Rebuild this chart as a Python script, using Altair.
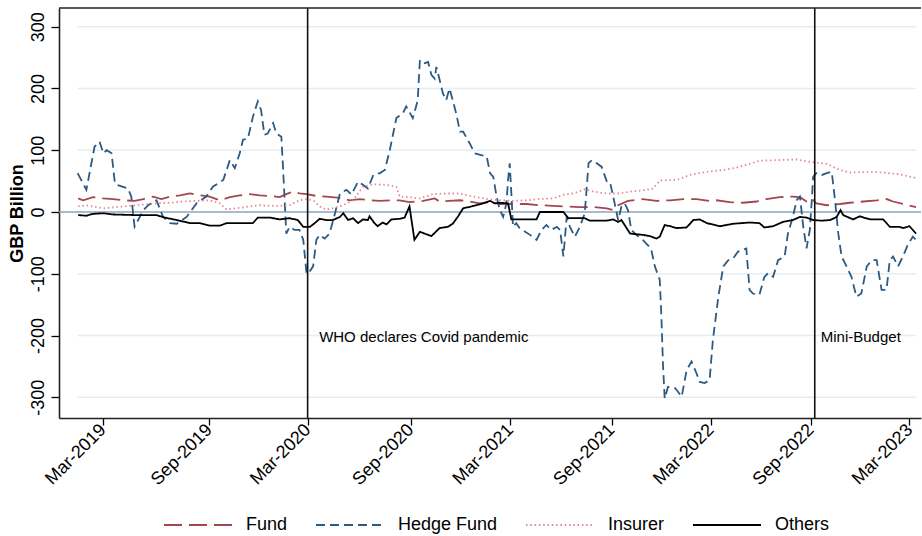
import altair as alt
import pandas as pd

# Net positions by sector, GBP billion (date, value)
fund = [
    ("2019-01-17", 22), ("2019-01-26", 19), ("2019-02-13", 24), ("2019-03-04", 22), ("2019-03-22", 21),
    ("2019-04-09", 19), ("2019-04-30", 18), ("2019-05-16", 21), ("2019-06-03", 25), ("2019-06-18", 21),
    ("2019-07-04", 25), ("2019-07-22", 27), ("2019-08-09", 30), ("2019-08-27", 27), ("2019-09-14", 25),
    ("2019-10-03", 19), ("2019-10-21", 24), ("2019-11-08", 27), ("2019-11-26", 29), ("2019-12-15", 27),
    ("2020-01-02", 26), ("2020-01-20", 24), ("2020-02-01", 29), ("2020-02-13", 33), ("2020-02-25", 30),
    ("2020-03-09", 29), ("2020-03-27", 26), ("2020-04-14", 25), ("2020-05-09", 23), ("2020-05-27", 19),
    ("2020-06-14", 21), ("2020-07-02", 19), ("2020-07-21", 18), ("2020-08-08", 19), ("2020-08-26", 19),
    ("2020-09-13", 16), ("2020-10-08", 18), ("2020-10-29", 22), ("2020-11-07", 17), ("2020-11-25", 18),
    ("2020-12-14", 19), ("2021-01-01", 17), ("2021-01-19", 14), ("2021-02-07", 16), ("2021-02-25", 13),
    ("2021-03-21", 13), ("2021-04-15", 13), ("2021-05-09", 11), ("2021-06-02", 10), ("2021-06-27", 9),
    ("2021-07-21", 8), ("2021-08-15", 8), ("2021-09-08", 6), ("2021-09-20", 3), ("2021-09-29", 11),
    ("2021-10-17", 18), ("2021-11-13", 21), ("2021-12-08", 18), ("2022-01-02", 19), ("2022-01-26", 21),
    ("2022-02-19", 21), ("2022-03-15", 18), ("2022-03-27", 19), ("2022-04-21", 16), ("2022-05-15", 15),
    ("2022-06-09", 17), ("2022-06-27", 21), ("2022-07-21", 24), ("2022-08-14", 25), ("2022-08-27", 24),
    ("2022-09-08", 17), ("2022-09-17", 22), ("2022-09-26", 14), ("2022-10-15", 11), ("2022-11-08", 13),
    ("2022-11-26", 15), ("2022-12-21", 17), ("2023-01-14", 19), ("2023-02-01", 21), ("2023-02-13", 17),
    ("2023-03-03", 13), ("2023-03-27", 8),
]

hedge_fund = [
    ("2019-01-16", 63), ("2019-02-01", 36), ("2019-02-16", 106), ("2019-02-25", 114), ("2019-03-04", 95),
    ("2019-03-10", 100), ("2019-03-19", 95), ("2019-03-25", 47), ("2019-03-28", 44), ("2019-04-18", 38),
    ("2019-04-24", 25), ("2019-04-30", -24), ("2019-05-16", 3), ("2019-05-25", 11), ("2019-06-09", 19),
    ("2019-06-21", -8), ("2019-07-04", -18), ("2019-07-16", -19), ("2019-08-03", -8), ("2019-08-21", 14),
    ("2019-09-08", 25), ("2019-09-20", 41), ("2019-10-09", 52), ("2019-10-21", 84), ("2019-10-30", 71),
    ("2019-11-08", 95), ("2019-11-14", 117), ("2019-11-23", 119), ("2019-12-02", 154), ("2019-12-11", 179),
    ("2019-12-17", 165), ("2019-12-23", 125), ("2019-12-29", 127), ("2020-01-08", 144), ("2020-01-14", 127),
    ("2020-01-23", 122), ("2020-01-26", 73), ("2020-01-29", 19), ("2020-02-01", -35), ("2020-02-07", -24),
    ("2020-02-16", -29), ("2020-02-25", -29), ("2020-03-03", -45), ("2020-03-09", -99), ("2020-03-12", -100),
    ("2020-03-21", -88), ("2020-03-27", -45), ("2020-04-02", -37), ("2020-04-11", -43), ("2020-04-20", -35),
    ("2020-04-30", -2), ("2020-05-09", 30), ("2020-05-21", 36), ("2020-05-30", 28), ("2020-06-11", 49),
    ("2020-06-20", 44), ("2020-06-29", 38), ("2020-07-09", 60), ("2020-07-21", 63), ("2020-07-30", 68),
    ("2020-08-08", 100), ("2020-08-20", 152), ("2020-09-01", 160), ("2020-09-07", 171), ("2020-09-19", 152),
    ("2020-09-25", 171), ("2020-09-28", 181), ("2020-10-02", 246), ("2020-10-11", 241), ("2020-10-17", 243),
    ("2020-10-23", 222), ("2020-10-29", 216), ("2020-11-01", 235), ("2020-11-07", 214), ("2020-11-13", 192),
    ("2020-11-19", 181), ("2020-11-25", 200), ("2020-12-01", 181), ("2020-12-08", 157), ("2020-12-14", 130),
    ("2020-12-20", 130), ("2021-01-01", 111), ("2021-01-10", 95), ("2021-01-22", 92), ("2021-02-01", 90),
    ("2021-02-07", 63), ("2021-02-13", 57), ("2021-02-19", 25), ("2021-02-25", 3), ("2021-03-03", -8),
    ("2021-03-09", 14), ("2021-03-12", 52), ("2021-03-15", 79), ("2021-03-18", 30), ("2021-03-21", -24),
    ("2021-03-27", -18), ("2021-04-02", -26), ("2021-04-21", -37), ("2021-05-03", -45), ("2021-05-12", -29),
    ("2021-05-21", -21), ("2021-05-30", -29), ("2021-06-09", -24), ("2021-06-15", -29), ("2021-06-21", -72),
    ("2021-06-27", -8), ("2021-07-03", -24), ("2021-07-12", -40), ("2021-07-21", -24), ("2021-07-30", -2),
    ("2021-08-06", 79), ("2021-08-12", 84), ("2021-08-21", 79), ("2021-08-30", 73), ("2021-09-08", 50),
    ("2021-09-14", 49), ("2021-09-20", 25), ("2021-09-29", -13), ("2021-10-05", 9), ("2021-10-11", 14),
    ("2021-10-17", 3), ("2021-10-23", -29), ("2021-11-01", -37), ("2021-11-13", -45), ("2021-11-28", -59),
    ("2021-12-05", -88), ("2021-12-14", -110), ("2021-12-17", -170), ("2021-12-20", -250), ("2021-12-23", -302),
    ("2021-12-29", -283), ("2022-01-11", -285), ("2022-01-23", -299), ("2022-02-01", -256), ("2022-02-10", -242),
    ("2022-02-19", -261), ("2022-02-25", -275), ("2022-03-06", -277), ("2022-03-15", -272), ("2022-03-21", -207),
    ("2022-03-31", -137), ("2022-04-09", -88), ("2022-04-18", -78), ("2022-04-27", -75), ("2022-05-06", -64),
    ("2022-05-21", -59), ("2022-05-27", -126), ("2022-06-02", -132), ("2022-06-14", -134), ("2022-06-23", -105),
    ("2022-06-30", -99), ("2022-07-09", -105), ("2022-07-18", -78), ("2022-07-30", -72), ("2022-08-05", -35),
    ("2022-08-14", -8), ("2022-08-21", 19), ("2022-08-27", 25), ("2022-09-02", -24), ("2022-09-08", -59),
    ("2022-09-14", -29), ("2022-09-18", 25), ("2022-09-20", 57), ("2022-09-26", 63), ("2022-10-06", 60),
    ("2022-10-15", 63), ("2022-10-24", 65), ("2022-10-30", 19), ("2022-11-05", -35), ("2022-11-11", -72),
    ("2022-11-20", -88), ("2022-11-29", -105), ("2022-12-08", -137), ("2022-12-17", -132), ("2022-12-27", -88),
    ("2023-01-05", -78), ("2023-01-14", -78), ("2023-01-23", -126), ("2023-02-01", -126), ("2023-02-07", -78),
    ("2023-02-13", -72), ("2023-02-22", -88), ("2023-03-03", -72), ("2023-03-12", -53), ("2023-03-21", -40),
    ("2023-03-27", -45),
]

insurer = [
    ("2019-01-17", 9), ("2019-02-01", 11), ("2019-02-13", 9), ("2019-03-04", 6), ("2019-03-28", 8),
    ("2019-04-22", 10), ("2019-05-16", 12), ("2019-06-09", 14), ("2019-07-04", 15), ("2019-07-28", 17),
    ("2019-08-21", 18), ("2019-09-14", 19), ("2019-10-03", 14), ("2019-10-15", 4), ("2019-11-02", 6),
    ("2019-11-26", 9), ("2019-12-15", 11), ("2020-01-02", 10), ("2020-01-20", 10), ("2020-02-07", 11),
    ("2020-02-25", 19), ("2020-03-09", 21), ("2020-03-21", 19), ("2020-04-02", 9), ("2020-04-14", 4),
    ("2020-04-26", 6), ("2020-05-15", 11), ("2020-06-02", 19), ("2020-06-20", 41), ("2020-07-09", 45),
    ("2020-08-02", 44), ("2020-08-20", 41), ("2020-08-26", 25), ("2020-09-13", 24), ("2020-10-02", 22),
    ("2020-10-26", 29), ("2020-11-19", 30), ("2020-12-14", 30), ("2021-01-07", 25), ("2021-02-01", 21),
    ("2021-02-25", 19), ("2021-03-21", 18), ("2021-04-15", 19), ("2021-05-09", 21), ("2021-06-02", 22),
    ("2021-06-21", 28), ("2021-07-09", 30), ("2021-07-30", 37), ("2021-08-15", 33), ("2021-09-08", 30),
    ("2021-09-29", 30), ("2021-10-21", 33), ("2021-11-13", 35), ("2021-12-02", 38), ("2021-12-14", 51),
    ("2022-01-14", 52), ("2022-02-07", 60), ("2022-03-10", 65), ("2022-04-09", 68), ("2022-05-03", 72),
    ("2022-05-27", 78), ("2022-06-14", 83), ("2022-07-15", 84), ("2022-08-21", 85), ("2022-09-14", 81),
    ("2022-09-26", 80), ("2022-10-15", 78), ("2022-11-08", 68), ("2022-11-26", 64), ("2023-01-02", 65),
    ("2023-01-26", 64), ("2023-02-25", 61), ("2023-03-27", 55),
]

others = [
    ("2019-01-17", -5), ("2019-02-01", -6), ("2019-02-13", -3), ("2019-03-04", -2), ("2019-03-22", -4),
    ("2019-05-03", -5), ("2019-06-09", -5), ("2019-06-24", -9), ("2019-07-16", -13), ("2019-08-09", -18),
    ("2019-08-27", -18), ("2019-09-14", -22), ("2019-10-03", -22), ("2019-10-15", -18), ("2019-12-02", -18),
    ("2019-12-11", -9), ("2020-01-02", -9), ("2020-01-20", -12), ("2020-02-07", -10), ("2020-02-22", -13),
    ("2020-03-03", -24), ("2020-03-15", -24), ("2020-03-24", -18), ("2020-04-02", -11), ("2020-04-14", -13),
    ("2020-04-26", -13), ("2020-05-09", -8), ("2020-05-15", -2), ("2020-05-24", -13), ("2020-06-02", -10),
    ("2020-06-11", -18), ("2020-06-20", -12), ("2020-06-29", -13), ("2020-07-02", -7), ("2020-07-11", -18),
    ("2020-07-17", -23), ("2020-07-26", -17), ("2020-08-02", -20), ("2020-08-11", -12), ("2020-08-26", -11),
    ("2020-09-04", -9), ("2020-09-13", 9), ("2020-09-22", -45), ("2020-10-02", -32), ("2020-10-23", -39),
    ("2020-11-07", -26), ("2020-11-22", -24), ("2020-12-01", -19), ("2020-12-10", -8), ("2020-12-20", 6),
    ("2021-01-04", 9), ("2021-01-22", 13), ("2021-02-07", 18), ("2021-02-16", 14), ("2021-02-25", 15),
    ("2021-03-12", 14), ("2021-03-18", -12), ("2021-05-03", -12), ("2021-05-09", 0), ("2021-06-21", 0),
    ("2021-06-30", -10), ("2021-07-30", -10), ("2021-08-08", -14), ("2021-09-08", -14), ("2021-09-20", -12),
    ("2021-09-29", -16), ("2021-10-05", -13), ("2021-10-21", -35), ("2021-11-13", -37), ("2021-11-26", -39),
    ("2021-12-08", -43), ("2021-12-14", -40), ("2021-12-23", -21), ("2022-01-02", -23), ("2022-01-14", -26),
    ("2022-02-01", -25), ("2022-02-13", -13), ("2022-02-25", -12), ("2022-03-10", -18), ("2022-04-03", -23),
    ("2022-04-27", -19), ("2022-05-27", -17), ("2022-06-14", -18), ("2022-06-23", -25), ("2022-07-09", -23),
    ("2022-07-27", -16), ("2022-08-14", -13), ("2022-08-27", -8), ("2022-09-08", -9), ("2022-09-20", -13),
    ("2022-10-06", -14), ("2022-10-21", -13), ("2022-11-02", -8), ("2022-11-09", 3), ("2022-11-14", -5),
    ("2022-12-02", -12), ("2022-12-14", -7), ("2023-01-02", -12), ("2023-01-26", -12), ("2023-02-07", -24),
    ("2023-02-25", -24), ("2023-03-03", -26), ("2023-03-15", -23), ("2023-03-27", -35),
]

sectors = ["Fund", "Hedge Fund", "Insurer", "Others"]
sector_series = [fund, hedge_fund, insurer, others]
sector_colors = ["#a3464f", "#2b5a82", "#e8849c", "#000000"]
sector_dashes = [[18, 7], [9, 5], [1.5, 2.8], [1, 0]]

# Event markers
event_dates = ["2020-03-11", "2022-09-23"]
event_labels = ["WHO declares Covid pandemic", "Mini-Budget"]
event_label_dates = ["2020-04-01", "2022-10-04"]
event_label_value = -202

# Axis ticks
x_tick_dates = ["2019-03-03", "2019-09-13", "2020-03-11", "2020-09-15", "2021-03-16",
                "2021-09-17", "2022-03-17", "2022-09-16", "2023-03-15"]
y_ticks = [-300, -200, -100, 0, 100, 200, 300]
x_range = ["2018-12-13", "2023-04-05"]
y_range = [-333.5, 330.3]

FONT = "Liberation Sans"
W, H = 862, 410


def ms(d):
    return int(pd.Timestamp(d, tz="UTC").value // 10**6)


rows = []
for name, series in zip(sectors, sector_series):
    for d, v in series:
        rows.append({"date": d, "value": v, "sector": name})
lines_df = pd.DataFrame(rows)

first_date = min(d for s in sector_series for d, _ in s)
last_date = max(d for s in sector_series for d, _ in s)
grid_df = pd.DataFrame({"y": [t for t in y_ticks if t != 0],
                        "start": first_date, "end": last_date})
zero_df = pd.DataFrame({"y": [0]})
events_df = pd.DataFrame({"date": event_dates})
labels_df = pd.DataFrame({"date": event_label_dates, "label": event_labels,
                          "value": event_label_value})

x_scale = alt.Scale(domain=[ms(d) for d in x_range], nice=False)
y_scale = alt.Scale(domain=y_range, nice=False, zero=False)

x_axis = alt.Axis(
    values=[ms(d) for d in x_tick_dates], format="%b-%Y", title=None, grid=False,
    labelAngle=-45, labelAlign="right", labelBaseline="middle", labelPadding=2,
    labelFont=FONT, labelFontSize=18, labelColor="#000000",
    tickSize=7, tickWidth=1.3, tickColor="#000000",
    domainColor="#222222", domainWidth=1.6,
)
y_axis = alt.Axis(
    values=y_ticks, title="GBP Billion", grid=False,
    labelExpr="'' + datum.value",
    labelAngle=270, labelAlign="center", labelBaseline="bottom", labelPadding=4,
    labelFont=FONT, labelFontSize=18, labelColor="#000000",
    titleFont=FONT, titleFontSize=18, titleFontWeight="bold", titleColor="#000000",
    titlePadding=3,
    tickSize=8, tickWidth=1.3, tickColor="#000000",
    domainColor="#222222", domainWidth=1.6,
)


def X(field):
    return alt.X(field, type="temporal", scale=x_scale, axis=x_axis)


def Y(field):
    return alt.Y(field, type="quantitative", scale=y_scale, axis=y_axis)


grid = alt.Chart(grid_df).mark_rule(color="#e4eef1", strokeWidth=1.5).encode(
    x=X("start"), x2="end", y=Y("y")
)

zero = alt.Chart(zero_df).mark_rule(color="#8ea4bc", strokeWidth=1.6).encode(y=Y("y"))

legend = alt.Legend(
    title=None, orient="none", direction="horizontal", columns=4,
    legendX=104, legendY=482,
    symbolType="stroke", symbolSize=4624, symbolStrokeWidth=2,
    labelFont=FONT, labelFontSize=18, labelColor="#000000", labelOffset=13,
    columnPadding=24,
)

lines = alt.Chart(lines_df).mark_line(strokeWidth=1.8).encode(
    x=X("date"),
    y=Y("value"),
    color=alt.Color("sector:N", scale=alt.Scale(domain=sectors, range=sector_colors), legend=legend),
    strokeDash=alt.StrokeDash("sector:N", scale=alt.Scale(domain=sectors, range=sector_dashes), legend=legend),
    detail="sector:N",
)

events = alt.Chart(events_df).mark_rule(color="#111111", strokeWidth=1.6).encode(x=X("date"))

labels = alt.Chart(labels_df).mark_text(
    align="left", baseline="middle", font=FONT, fontSize=15, color="#000000"
).encode(x=X("date"), y=Y("value"), text="label:N")

top_border = alt.Chart(zero_df).mark_rule(color="#222222", strokeWidth=1.6).encode(
    x=alt.value(0), x2=alt.value(W), y=alt.value(0)
)

chart = alt.layer(grid, zero, lines, events, labels, top_border).properties(
    width=W, height=H,
    autosize=alt.AutoSizeParams(type="none"),
    padding={"left": 59, "top": 8, "right": 1, "bottom": 118},
    background="white",
).configure_view(stroke=None)

chart.save("out.html", embed_options={"renderer": "svg", "actions": False})
